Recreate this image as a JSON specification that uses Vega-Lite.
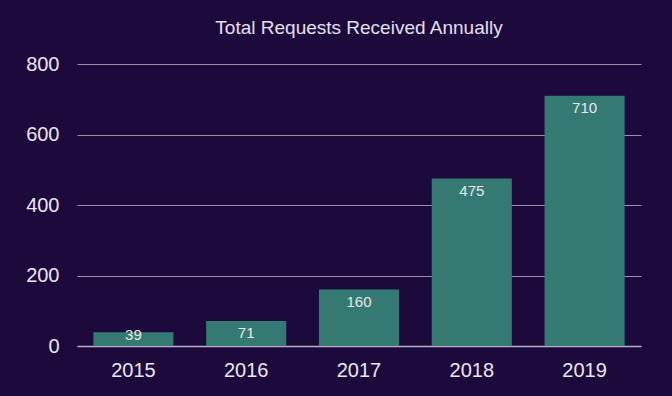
{
  "$schema": "https://vega.github.io/schema/vega-lite/v6.json",
  "autosize": {"type": "none"},
  "width": 564,
  "height": 282,
  "padding": {"left": 77, "top": 64, "right": 31, "bottom": 50},
  "background": "#1c0a3c",
  "title": {
    "text": "Total Requests Received Annually",
    "font": "Liberation Sans",
    "fontSize": 19,
    "fontWeight": "normal",
    "color": "#e4e0ee",
    "anchor": "middle",
    "baseline": "bottom",
    "offset": -3
  },
  "config": {
    "view": {"stroke": null},
    "font": "Liberation Sans"
  },
  "data": {
    "values": [
      {"year": "2015", "requests": 39},
      {"year": "2016", "requests": 71},
      {"year": "2017", "requests": 160},
      {"year": "2018", "requests": 475},
      {"year": "2019", "requests": 710}
    ]
  },
  "encoding": {
    "x": {
      "field": "year",
      "type": "nominal",
      "scale": {"paddingInner": 0.29, "paddingOuter": 0.145},
      "axis": {
        "title": null,
        "labelAngle": 0,
        "labelFontSize": 20,
        "labelColor": "#ece8f2",
        "labelPadding": 14,
        "ticks": false,
        "domainColor": "#b8b0c8",
        "domainWidth": 1.5,
        "grid": false
      }
    },
    "y": {
      "field": "requests",
      "type": "quantitative",
      "scale": {"domain": [0, 800], "nice": false},
      "axis": {
        "title": null,
        "values": [0, 200, 400, 600, 800],
        "labelFontSize": 20,
        "labelColor": "#ece8f2",
        "labelPadding": 18,
        "ticks": false,
        "domain": false,
        "grid": true,
        "gridColor": "#9a90ae",
        "gridWidth": 1
      }
    }
  },
  "layer": [
    {"mark": {"type": "bar", "color": "#357a72"}},
    {
      "transform": [{"filter": "datum.requests >= 50"}],
      "mark": {"type": "text", "baseline": "top", "dy": 5, "fontSize": 15, "color": "#e8e8ea"},
      "encoding": {"text": {"field": "requests", "type": "quantitative"}}
    },
    {
      "transform": [{"filter": "datum.requests < 50"}],
      "mark": {"type": "text", "baseline": "top", "dy": -4, "fontSize": 15, "color": "#e8e8ea"},
      "encoding": {"text": {"field": "requests", "type": "quantitative"}}
    }
  ]
}
